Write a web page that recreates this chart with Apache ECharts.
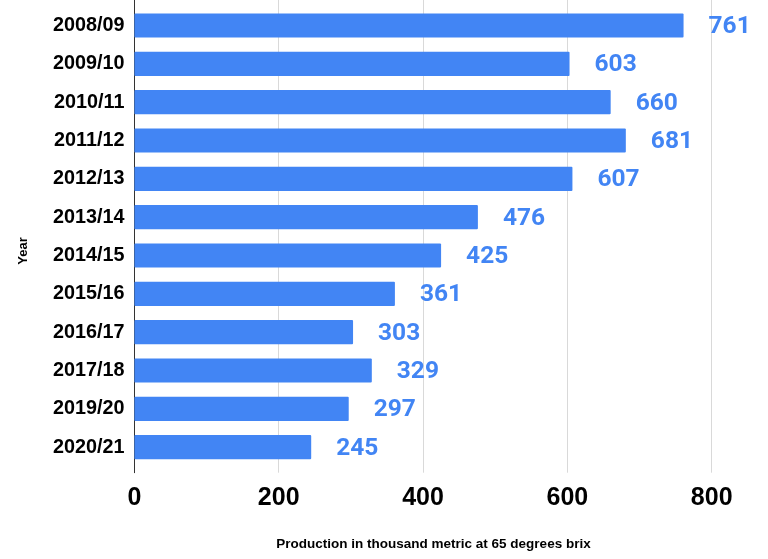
<!DOCTYPE html>
<html>
<head>
<meta charset="utf-8">
<script src="https://cdn.jsdelivr.net/npm/echarts@6/dist/echarts.min.js"></script>
<style>
html,body{margin:0;padding:0;background:#fff;}
#chart{width:768px;height:559px;}
</style>
</head>
<body>
<div id="chart"></div>
<script>
const categories = ["2008/09","2009/10","2010/11","2011/12","2012/13","2013/14","2014/15","2015/16","2016/17","2017/18","2019/20","2020/21"];
const values = [761,603,660,681,607,476,425,361,303,329,297,245];
const xTicks = [0,200,400,600,800];
const xTitle = "Production in thousand metric at 65 degrees brix";
const yTitle = "Year";

const chart = echarts.init(document.getElementById('chart'), null, {renderer:'canvas'});
const blue = '#4285F4';
chart.setOption({
  animation:false,
  backgroundColor:'#fff',
  grid:[
    {left:134.4, right:56.3, top:0, height:472.7},
    {left:134.4, right:56.3, top:6.35, height:460}
  ],
  xAxis:[
    {gridIndex:0, type:'value', min:xTicks[0], max:xTicks[xTicks.length-1], interval:200,
     axisLine:{show:false}, axisTick:{show:false},
     splitLine:{show:true, lineStyle:{color:'#d9d9d9', width:1}},
     axisLabel:{margin:13, color:'#000', fontFamily:'Liberation Sans, Arial', fontWeight:'bold', fontSize:25}},
    {gridIndex:1, type:'value', min:xTicks[0], max:xTicks[xTicks.length-1], show:false}
  ],
  yAxis:[
    {gridIndex:0, type:'category', data:categories, inverse:true,
     axisLine:{show:true, lineStyle:{color:'#333', width:1}}, axisTick:{show:false}, axisLabel:{show:false}},
    {gridIndex:1, type:'category', data:categories, inverse:true,
     axisLine:{show:false}, axisTick:{show:false},
     axisLabel:{margin:10, color:'#000', fontFamily:'Liberation Sans, Arial', fontWeight:'bold', fontSize:19.8}}
  ],
  series:[{
    type:'bar', xAxisIndex:1, yAxisIndex:1, data:values,
    barCategoryGap:'37%',
    itemStyle:{color:blue, borderRadius:1},
    label:{show:true, position:'right', distance:25, offset:[0,1.5], color:blue,
      fontFamily:'Roboto', fontWeight:'bold', fontSize:24.5}
  }],
  graphic:[
    {type:'text', x:433.5, y:544, style:{text:xTitle, x:0, y:0, align:'center', verticalAlign:'middle',
      fill:'#000', font:'bold 13.5px "Liberation Sans", Arial'}},
    {type:'text', x:23, y:251, rotation:Math.PI/2, style:{text:yTitle, align:'center', verticalAlign:'middle',
      fill:'#000', font:'bold 13px "Liberation Sans", Arial'}}
  ]
});
</script>
</body>
</html>
